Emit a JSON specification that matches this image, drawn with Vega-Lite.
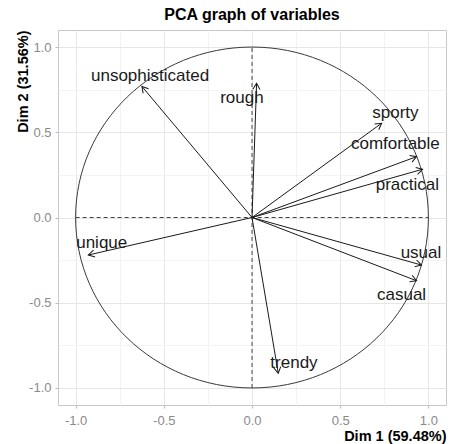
{
  "$schema": "https://vega.github.io/schema/vega-lite/v6.json",
  "width": 388,
  "height": 375,
  "autosize": "none",
  "padding": {"left": 58, "top": 30, "right": 4, "bottom": 39},
  "background": "white",
  "config": {
    "font": "Liberation Sans",
    "view": {"stroke": "#c8c8c8", "strokeWidth": 1}
  },
  "title": {
    "text": "PCA graph of variables",
    "fontSize": 16,
    "fontWeight": "bold",
    "color": "black",
    "anchor": "middle",
    "frame": "group",
    "baseline": "top",
    "offset": 7
  },
  "datasets": {
    "vars": [
      {"name": "unsophisticated", "x": -0.624, "y": 0.769, "lx": -0.578, "ly": 0.832},
      {"name": "rough", "x": 0.026, "y": 0.787, "lx": -0.057, "ly": 0.701},
      {"name": "sporty", "x": 0.735, "y": 0.553, "lx": 0.813, "ly": 0.615},
      {"name": "comfortable", "x": 0.933, "y": 0.357, "lx": 0.813, "ly": 0.431},
      {"name": "practical", "x": 0.967, "y": 0.283, "lx": 0.881, "ly": 0.191},
      {"name": "usual", "x": 0.961, "y": -0.279, "lx": 0.958, "ly": -0.21},
      {"name": "casual", "x": 0.933, "y": -0.371, "lx": 0.848, "ly": -0.455},
      {"name": "unique", "x": -0.928, "y": -0.22, "lx": -0.852, "ly": -0.151},
      {"name": "trendy", "x": 0.149, "y": -0.914, "lx": 0.238, "ly": -0.855}
    ]
  },
  "layer": [
    {
      "data": {"values": [{"cx": 0, "cy": 0}]},
      "mark": {
        "type": "point",
        "shape": "M1,0C1,0.5339,0.5523,0.9663,0,0.9663C-0.5523,0.9663,-1,0.5339,-1,0C-1,-0.5339,-0.5523,-0.9663,0,-0.9663C0.5523,-0.9663,1,-0.5339,1,0Z",
        "size": 124468,
        "filled": false,
        "stroke": "#3a3a3a",
        "strokeWidth": 1,
        "opacity": 1
      },
      "encoding": {
        "x": {
          "field": "cx", "type": "quantitative",
          "scale": {"domain": [-1.1, 1.1], "nice": false, "zero": false},
          "axis": {
            "values": [-1, -0.75, -0.5, -0.25, 0, 0.25, 0.5, 0.75, 1],
            "labelExpr": "abs(datum.value*2 - round(datum.value*2)) < 0.01 ? replace(format(datum.value, '.1f'), '\u2212', '-') : ''",
            "grid": true,
            "gridColor": {"condition": {"test": "abs(datum.value*2 - round(datum.value*2)) > 0.01", "value": "#f3f3f3"}, "value": "#e6e6e6"},
            "tickColor": {"condition": {"test": "abs(datum.value*2 - round(datum.value*2)) > 0.01", "value": "transparent"}, "value": "#bdbdbd"},
            "tickSize": 3,
            "labelPadding": 6,
            "labelFontSize": 13,
            "labelColor": "#8a8a8a",
            "domain": false,
            "title": "Dim 1 (59.48%)",
            "titleFontSize": 14.5,
            "titleFontWeight": "bold",
            "titleColor": "black",
            "titleAnchor": "end",
            "titlePadding": 2
          }
        },
        "y": {
          "field": "cy", "type": "quantitative",
          "scale": {"domain": [-1.1, 1.1], "nice": false, "zero": false},
          "axis": {
            "values": [-1, -0.75, -0.5, -0.25, 0, 0.25, 0.5, 0.75, 1],
            "labelExpr": "abs(datum.value*2 - round(datum.value*2)) < 0.01 ? replace(format(datum.value, '.1f'), '\u2212', '-') : ''",
            "grid": true,
            "gridColor": {"condition": {"test": "abs(datum.value*2 - round(datum.value*2)) > 0.01", "value": "#f3f3f3"}, "value": "#e6e6e6"},
            "tickColor": {"condition": {"test": "abs(datum.value*2 - round(datum.value*2)) > 0.01", "value": "transparent"}, "value": "#bdbdbd"},
            "tickSize": 3,
            "labelPadding": 4,
            "labelFontSize": 13,
            "labelColor": "#8a8a8a",
            "domain": false,
            "title": "Dim 2 (31.56%)",
            "titleFontSize": 14.5,
            "titleFontWeight": "bold",
            "titleColor": "black",
            "titleAnchor": "end",
            "titlePadding": -2
          }
        }
      }
    },
    {
      "data": {"values": [{"a": -1, "b": 1, "z": 0}]},
      "mark": {"type": "rule", "color": "#444444", "strokeWidth": 1, "strokeDash": [4, 3]},
      "encoding": {
        "x": {"field": "a", "type": "quantitative", "scale": {"domain": [-1.1, 1.1], "nice": false, "zero": false}},
        "x2": {"field": "b"},
        "y": {"field": "z", "type": "quantitative", "scale": {"domain": [-1.1, 1.1], "nice": false, "zero": false}}
      }
    },
    {
      "data": {"values": [{"a": -1, "b": 1, "z": 0}]},
      "mark": {"type": "rule", "color": "#444444", "strokeWidth": 1, "strokeDash": [4, 3]},
      "encoding": {
        "y": {"field": "a", "type": "quantitative", "scale": {"domain": [-1.1, 1.1], "nice": false, "zero": false}},
        "y2": {"field": "b"},
        "x": {"field": "z", "type": "quantitative", "scale": {"domain": [-1.1, 1.1], "nice": false, "zero": false}}
      }
    },
    {
      "data": {"name": "vars"},
      "mark": {"type": "rule", "color": "#1a1a1a", "strokeWidth": 1},
      "encoding": {
        "x": {"field": "x", "type": "quantitative", "scale": {"domain": [-1.1, 1.1], "nice": false, "zero": false}},
        "y": {"field": "y", "type": "quantitative", "scale": {"domain": [-1.1, 1.1], "nice": false, "zero": false}},
        "x2": {"datum": 0},
        "y2": {"datum": 0}
      }
    },
    {
      "data": {"name": "vars"},
      "transform": [
        {"calculate": "atan2(datum.x * 176.4, datum.y * 170.45) * 180 / PI", "as": "ang"}
      ],
      "mark": {
        "type": "point",
        "shape": "M-0.5,0.866L0,0L0.5,0.866",
        "size": 200,
        "filled": false,
        "stroke": "#1a1a1a",
        "strokeWidth": 1,
        "opacity": 1
      },
      "encoding": {
        "x": {"field": "x", "type": "quantitative", "scale": {"domain": [-1.1, 1.1], "nice": false, "zero": false}},
        "y": {"field": "y", "type": "quantitative", "scale": {"domain": [-1.1, 1.1], "nice": false, "zero": false}},
        "angle": {"field": "ang", "type": "quantitative", "scale": null}
      }
    },
    {
      "data": {"name": "vars"},
      "mark": {"type": "text", "fontSize": 17, "color": "#1a1a1a", "align": "center", "baseline": "middle"},
      "encoding": {
        "x": {"field": "lx", "type": "quantitative", "scale": {"domain": [-1.1, 1.1], "nice": false, "zero": false}},
        "y": {"field": "ly", "type": "quantitative", "scale": {"domain": [-1.1, 1.1], "nice": false, "zero": false}},
        "text": {"field": "name"}
      }
    }
  ]
}
